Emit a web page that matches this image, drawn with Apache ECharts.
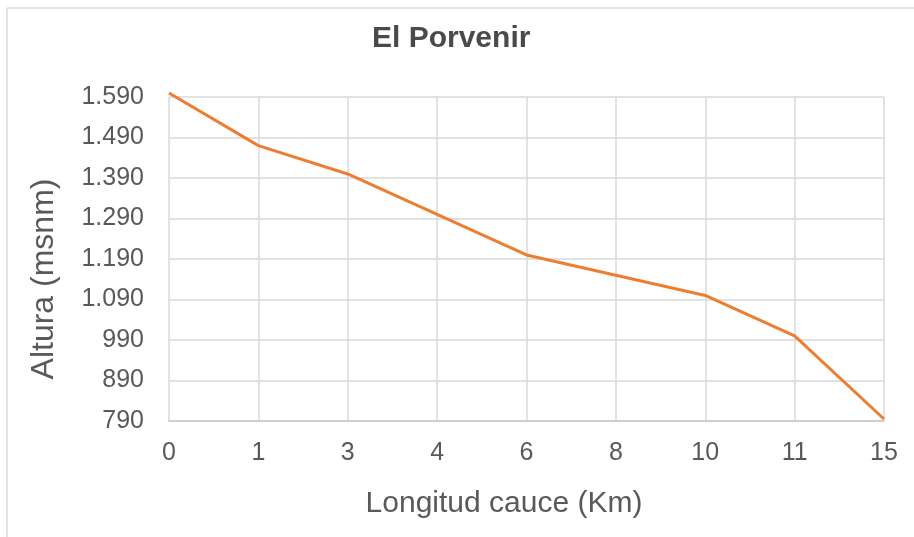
<!DOCTYPE html>
<html>
<head>
<meta charset="utf-8">
<script src="https://cdn.jsdelivr.net/npm/echarts@6/dist/echarts.min.js"></script>
<style>
html,body{margin:0;padding:0;background:#fff;}
#c{width:914px;height:537px;}
</style>
</head>
<body>
<div id="c"></div>
<script>
const categories = ['0','1','3','4','6','8','10','11','15'];
const alturas = [1600, 1470, 1400, 1300, 1200, 1150, 1100, 1000, 795];
const chartTitle = 'El Porvenir';
const xName = 'Longitud cauce (Km)';
const yName = 'Altura (msnm)';

function fmt(v){
  return String(v).replace(/\B(?=(\d{3})+(?!\d))/g, '.');
}

const chart = echarts.init(document.getElementById('c'));
chart.setOption({
  animation:false,
  backgroundColor:'#fff',
  graphic:[
    {type:'line',shape:{x1:7,y1:8,x2:914,y2:8},style:{stroke:'#d9d9d9',lineWidth:1.5}},
    {type:'line',shape:{x1:7,y1:8,x2:7,y2:537},style:{stroke:'#d9d9d9',lineWidth:1.5}},
    {type:'text',x:504,y:504,style:{text:xName,font:'30px "Liberation Sans"',fill:'#595959',textAlign:'center',textVerticalAlign:'middle'}},
    {type:'text',x:44,y:279,rotation:Math.PI/2,style:{text:yName,font:'32px "Liberation Sans"',fill:'#595959',textAlign:'center',textVerticalAlign:'middle'}}
  ],
  title:{text:chartTitle,left:367,top:19,textStyle:{fontFamily:'Liberation Sans',fontWeight:'bold',fontSize:30,color:'#4a4a4a'}},
  grid:{left:169,right:30,top:97,bottom:116},
  xAxis:{type:'category',data:categories,boundaryGap:false,
    axisLine:{lineStyle:{color:'#c8c8c8',width:1.5}},axisTick:{show:false},
    axisLabel:{fontFamily:'Liberation Sans',fontSize:25,color:'#595959',margin:20},
    splitLine:{show:true,lineStyle:{color:'#d9d9d9',width:1.5}}},
  yAxis:{type:'value',min:790,max:1590,interval:100,
    axisLine:{show:false},axisTick:{show:false},
    axisLabel:{fontFamily:'Liberation Sans',fontSize:25,color:'#595959',margin:25,formatter:fmt},
    splitLine:{lineStyle:{color:'#d9d9d9',width:1.5}}},
  series:[{type:'line',data:alturas,symbol:'none',clip:false,
    lineStyle:{color:'#ED7D31',width:3}}]
});
</script>
</body>
</html>
